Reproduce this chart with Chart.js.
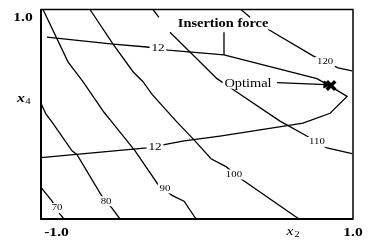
<!DOCTYPE html>
<html>
<head>
<meta charset="utf-8">
<script src="https://cdn.jsdelivr.net/npm/chart.js@4/dist/chart.umd.min.js"></script>
<style>
body { margin: 0; background: #fff; }
canvas { display: block; }
</style>
</head>
<body>
<canvas id="myChart" width="368" height="242"></canvas>
<script>
// contour lines, coded units: [x2, x4]   (null = break in the line)
var c70 = [[-1.000,-0.698],[-0.929,-0.830],[-0.878,-0.953],[-0.853,-1.000]];
var c80 = [[-1.000,0.104],[-0.968,0.000],[-0.929,-0.075],[-0.801,-0.349],[-0.769,-0.387],[-0.609,-0.783],[-0.545,-0.896],[-0.494,-1.000]];
var c90 = [[-0.987,1.000],[-0.827,0.500],[-0.731,0.311],[-0.596,0.019],[-0.545,-0.075],[-0.397,-0.349],[-0.250,-0.670],[-0.160,-0.774],[-0.083,-0.830],[-0.006,-1.000]];
var c100 = [[-0.686,1.000],[-0.538,0.670],[-0.410,0.406],[-0.346,0.311],[-0.288,0.189],[-0.128,-0.075],[-0.019,-0.245],[0.090,-0.425],[0.186,-0.500],[0.288,-0.623],[0.654,-1.000]];
var c110 = [[-0.282,1.000],[-0.244,0.925],null,[-0.173,0.783],[-0.045,0.594],[0.128,0.340],[0.231,0.236],[0.532,-0.066],[0.692,-0.198],[0.833,-0.321],[0.994,-0.377]];
var c120 = [[0.282,1.000],[0.340,0.925],null,[0.455,0.811],[0.744,0.557],[0.904,0.443],[0.994,0.415]];
// insertion force = 12 contour
var force12 = [[-0.962,0.736],[-0.538,0.670],[-0.321,0.642],[-0.186,0.613],[0.173,0.566],[0.769,0.340],[0.859,0.264],[0.962,0.170],[0.853,0.009],[0.679,-0.085],[0.558,-0.113],[0.147,-0.208],[-0.083,-0.255],[-0.218,-0.292],[-0.321,-0.321],[-1.000,-0.415]];
var leader = [[0.173,0.783],[0.173,0.566]];
var arrow = [[0.513,0.302],[0.827,0.283]];
var optimum = [[0.859,0.274]];

// contour labels
var labelText = ['70','80','90','100','110','120','12','12'];
var labelX = [-0.897,-0.583,-0.205,0.237,0.769,0.821,-0.250,-0.269];
var labelY = [-0.896,-0.830,-0.708,-0.575,-0.264,0.500,0.632,-0.311];
var labelBig = [false,false,false,false,false,false,true,true];

function pts(arr){
    return arr.map(function(p){ return p ? {x: p[0], y: p[1]} : {x: null, y: null}; });
}

function lineSet(arr){
    return {data: pts(arr), showLine: true, pointRadius: 0, borderColor: '#000', borderWidth: 1.3, fill: false};
}

var SERIF = '"Liberation Serif", "DejaVu Serif", serif';

// draws text a bit wider, like the original figure
function txt(ctx, s, x, y, font, align, bg){
    ctx.save();
    ctx.font = font;
    ctx.textBaseline = 'middle';
    ctx.textAlign = align || 'center';
    ctx.translate(x, y);
    ctx.scale(1.2, 1);
    if (bg) {
        var w = ctx.measureText(s).width;
        ctx.fillStyle = '#fff';
        ctx.fillRect(-w/2 - 1.5, -5, w + 3, 10);
    }
    ctx.fillStyle = '#000';
    ctx.fillText(s, 0, 0);
    ctx.restore();
}

var annotations = {
    id: 'annotations',
    afterDatasetsDraw: function(chart){
        var ctx = chart.ctx, xs = chart.scales.x, ys = chart.scales.y, a = chart.chartArea;
        for (var i = 0; i < labelText.length; i++) {
            txt(ctx, labelText[i], xs.getPixelForValue(labelX[i]), ys.getPixelForValue(labelY[i]),
                (labelBig[i] ? '11px ' : '9px ') + SERIF, 'center', true);
        }
        txt(ctx, 'Insertion force', xs.getPixelForValue(0.167), ys.getPixelForValue(0.858), 'bold 12px ' + SERIF, 'center', true);
        txt(ctx, 'Optimal', xs.getPixelForValue(0.327), ys.getPixelForValue(0.292), '12px ' + SERIF, 'center', true);

        // frame
        ctx.save();
        ctx.strokeStyle = '#000';
        ctx.lineWidth = 1.5;
        ctx.strokeRect(a.left, a.top, a.right - a.left, a.bottom - a.top);
        ctx.lineWidth = 2;
        ctx.beginPath();
        ctx.moveTo(a.left, a.top);
        ctx.lineTo(a.left, a.bottom);
        ctx.lineTo(a.right, a.bottom);
        ctx.stroke();
        ctx.restore();

        // axis texts
        var f = 'bold 13px ' + SERIF;
        txt(ctx, '1.0', a.left - 18, a.top + 8.5, f);
        txt(ctx, '-1.0', a.left + 15.5, a.bottom + 14, f);
        txt(ctx, '1.0', a.right, a.bottom + 14, f);
        var y4 = ys.getPixelForValue(0.151);
        txt(ctx, 'x', a.left - 20, y4, 'italic bold 13px ' + SERIF);
        txt(ctx, '4', a.left - 13, y4 + 3, '9px ' + SERIF);
        var x2 = xs.getPixelForValue(0.609);
        txt(ctx, 'x', x2 - 2, a.bottom + 13, 'italic 13px ' + SERIF);
        txt(ctx, '2', x2 + 5, a.bottom + 16, '9px ' + SERIF);
    }
};

var ctx = document.getElementById('myChart').getContext('2d');
var arrowSet = lineSet(arrow);
arrowSet.pointRadius = [0, 4];
arrowSet.pointStyle = 'triangle';
arrowSet.rotation = 93;
arrowSet.pointBackgroundColor = '#000';
arrowSet.pointBorderColor = '#000';
arrowSet.pointBorderWidth = 1;

var chart = new Chart(ctx, {
    type: 'scatter',
    data: {
        datasets: [
            lineSet(c70), lineSet(c80), lineSet(c90), lineSet(c100), lineSet(c110), lineSet(c120),
            lineSet(force12), lineSet(leader), arrowSet,
            {data: pts(optimum), pointStyle: 'crossRot', pointRadius: 6, borderWidth: 3.5, borderColor: '#000', backgroundColor: '#000'}
        ]
    },
    options: {
        responsive: false,
        animation: false,
        layout: {padding: {left: 41, top: 7, right: 15, bottom: 23}},
        scales: {
            x: {type: 'linear', min: -1, max: 1, display: false},
            y: {type: 'linear', min: -1, max: 1, display: false}
        },
        plugins: {legend: {display: false}, tooltip: {enabled: false}}
    },
    plugins: [annotations]
});
</script>
</body>
</html>
